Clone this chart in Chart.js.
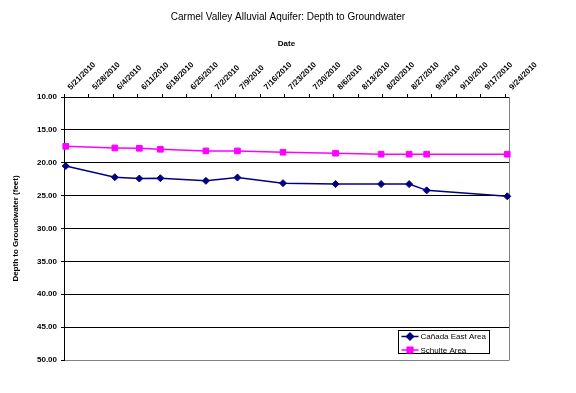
<!DOCTYPE html>
<html>
<head>
<meta charset="utf-8">
<script src="https://cdn.jsdelivr.net/npm/chart.js@4"></script>
<style>
  html, body { margin: 0; padding: 0; background: #fff; }
</style>
</head>
<body>
<canvas id="depthChart" width="576" height="393"></canvas>
<script>
// measurement dates and depths (feet below ground)
const sampleDates = ['5/21/2010', '6/4/2010', '6/11/2010', '6/17/2010', '6/30/2010', '7/9/2010',
  '7/22/2010', '8/6/2010', '8/19/2010', '8/27/2010', '9/1/2010', '9/24/2010'];
const canadaEast = [20.5, 22.2, 22.4, 22.35, 22.75, 22.25, 23.1, 23.25, 23.25, 23.25, 24.2, 25.1];
const schulte = [17.5, 17.75, 17.8, 17.95, 18.2, 18.2, 18.4, 18.55, 18.7, 18.7, 18.7, 18.7];

// weekly tick labels along the top axis
const tickDates = ['5/21/2010', '5/28/2010', '6/4/2010', '6/11/2010', '6/18/2010', '6/25/2010',
  '7/2/2010', '7/9/2010', '7/16/2010', '7/23/2010', '7/30/2010', '8/6/2010', '8/13/2010',
  '8/20/2010', '8/27/2010', '9/3/2010', '9/10/2010', '9/17/2010', '9/24/2010'];

const seriesNames = ['Cañada East Area', 'Schulte Area'];

Chart.defaults.font.family = "'Liberation Sans', Arial, sans-serif";
Chart.defaults.color = '#000';

// days since first tick date
function dayOf(str) {
  const [m, d, y] = str.split('/').map(Number);
  const [m0, d0, y0] = tickDates[0].split('/').map(Number);
  return (Date.UTC(y, m - 1, d) - Date.UTC(y0, m0 - 1, d0)) / 86400000;
}

const tickDays = tickDates.map(dayOf);
const toPoints = vals => sampleDates.map((d, i) => ({ x: dayOf(d) + 0.5, y: vals[i] }));

// right-hand frame edge and the boxed legend inside the plot
const plotExtras = {
  id: 'plotExtras',
  beforeDatasetsDraw(chart) {
    const { ctx, chartArea: a } = chart;
    ctx.save();
    ctx.strokeStyle = '#808080';
    ctx.lineWidth = 1;
    ctx.beginPath();
    ctx.moveTo(a.right + 0.5, a.top);
    ctx.lineTo(a.right + 0.5, a.bottom + 0.5);
    ctx.stroke();
    ctx.restore();
  },
  afterDraw(chart) {
    const { ctx, chartArea: a } = chart;
    const x = Math.round(a.right - 111) + 0.5, y = Math.round(a.bottom - 30) + 0.5;
    const w = 91, h = 23;
    ctx.save();
    ctx.fillStyle = '#fff';
    ctx.fillRect(x, y, w, h);
    ctx.strokeStyle = '#000';
    ctx.lineWidth = 1;
    ctx.strokeRect(x, y, w, h);
    ctx.font = "8px 'Liberation Sans', Arial, sans-serif";
    ctx.textBaseline = 'middle';
    chart.data.datasets.forEach((ds, i) => {
      const cy = y + 6 + i * 13.5;
      ctx.strokeStyle = ds.borderColor;
      ctx.lineWidth = 1.5;
      ctx.beginPath();
      ctx.moveTo(x + 3, cy);
      ctx.lineTo(x + 20, cy);
      ctx.stroke();
      Chart.helpers.drawPoint(ctx, {
        pointStyle: ds.pointStyle, radius: ds.pointRadius, rotation: 0, borderWidth: 1
      }, x + 11.5, cy);
      ctx.fillStyle = ds.borderColor;
      ctx.fill();
      ctx.fillStyle = '#000';
      ctx.fillText(ds.label, x + 22, cy + 0.5);
    });
    ctx.restore();
  }
};

new Chart(document.getElementById('depthChart'), {
  type: 'line',
  data: {
    datasets: [{
      label: seriesNames[0],
      data: toPoints(canadaEast),
      borderColor: '#000080',
      backgroundColor: '#000080',
      borderWidth: 1.5,
      pointStyle: 'rectRot',
      pointRadius: 3.5,
      pointBorderWidth: 1,
      tension: 0,
      clip: false
    }, {
      label: seriesNames[1],
      data: toPoints(schulte),
      borderColor: '#FF00FF',
      backgroundColor: '#FF00FF',
      borderWidth: 1.5,
      pointStyle: 'rect',
      pointRadius: 4,
      pointBorderWidth: 1,
      tension: 0,
      clip: false
    }]
  },
  options: {
    responsive: false,
    animation: false,
    layout: { padding: { left: 0, right: 0, top: 0, bottom: 33 } },
    plugins: {
      legend: { display: false },
      tooltip: { enabled: false },
      title: {
        display: true,
        text: 'Carmel Valley Alluvial Aquifer: Depth to Groundwater',
        font: { size: 10, weight: 'normal' },
        color: '#000',
        padding: { top: 11, bottom: 0 }
      }
    },
    scales: {
      x: {
        type: 'linear',
        position: 'top',
        min: 0,
        max: tickDays[tickDays.length - 1] + 1,
        afterBuildTicks: scale => { scale.ticks = tickDays.map(v => ({ value: v })); },
        afterFit: scale => { scale.height = 74; },
        ticks: {
          minRotation: 45,
          maxRotation: 45,
          padding: 2,
          labelOffset: 12,
          font: { size: 8, weight: 'bold' },
          callback: (v) => tickDates[tickDays.indexOf(v)]
        },
        grid: { drawOnChartArea: false, drawTicks: true, tickLength: 3, color: '#000' },
        border: { display: true, color: '#000', width: 1 },
        title: {
          display: true,
          text: 'Date',
          font: { size: 8, weight: 'bold' },
          padding: { top: 16, bottom: 0 }
        }
      },
      y: {
        reverse: true,
        min: 10,
        max: 50,
        afterFit: scale => { scale.width = 64; },
        ticks: {
          stepSize: 5,
          padding: 4,
          font: { size: 8, weight: 'bold' },
          callback: v => v.toFixed(2)
        },
        grid: {
          color: c => (c.tick && c.tick.value === 50 ? '#808080' : '#000'),
          tickColor: '#000',
          tickLength: 3
        },
        border: { display: true, color: '#000', width: 1 },
        title: {
          display: true,
          text: 'Depth to Groundwater (feet)',
          font: { size: 8, weight: 'bold' },
          padding: { top: 11, bottom: 0 }
        }
      },
      // empty right-hand margin so the title stays centred on the page
      yRight: {
        position: 'right',
        afterFit: scale => { scale.width = 67; },
        ticks: { display: false },
        grid: { display: false },
        border: { display: false }
      }
    }
  },
  plugins: [plotExtras]
});
</script>
</body>
</html>
